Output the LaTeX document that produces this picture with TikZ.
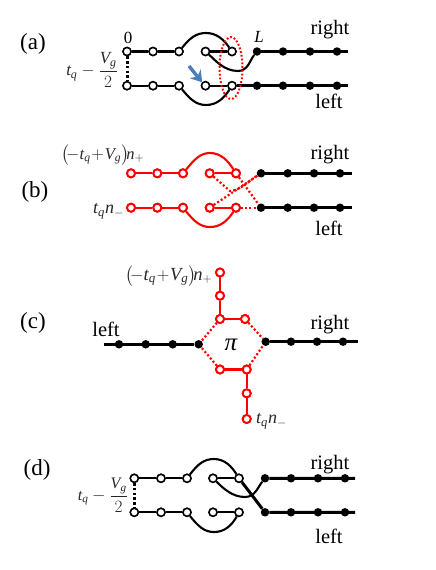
\documentclass[tikz,border=0pt]{standalone}
\usetikzlibrary{shapes.geometric,arrows.meta}
\usepackage{amsmath}
\usepackage{fontspec}
\setmainfont{Liberation Serif}
\newcommand{\iv}[1]{\text{\itshape #1}}
\newcommand{\pluslabel}{$\bigl(\!-\iv{t}_{\iv{q}}\!+\!\iv{V}_{\iv{g}}\bigr)\!\iv{n}_{+}$}
\tikzset{x=1pt,y=-1pt,
 wn/.style={circle,draw=black,fill=white,line width=1.5pt,inner sep=0pt,minimum size=8pt},
 rn/.style={circle,draw=red,fill=white,line width=1.9pt,inner sep=0pt,minimum size=8pt},
 bn/.style={circle,fill=black,inner sep=0pt,minimum size=8.5pt},
 bl/.style={line width=2.1pt,black},
 bt/.style={line width=3pt,black},
 rl/.style={line width=2.1pt,red},
 rd/.style={line width=2.2pt,red,dash pattern=on 2pt off 2.2pt},
 kd/.style={line width=3pt,black,dash pattern=on 2.6pt off 2.2pt},
 big/.style={font=\fontsize{23}{25}\selectfont,inner sep=0pt},
 lab/.style={font=\fontsize{20.5}{22}\selectfont,inner sep=0pt},
 sml/.style={font=\fontsize{17}{19}\selectfont,inner sep=0pt},
 mtha/.style={font=\fontsize{17}{19}\selectfont,inner sep=0pt,text=black!85},
 mthd/.style={font=\fontsize{16}{18}\selectfont,inner sep=0pt,text=black!85},
 mtb/.style={font=\fontsize{16.5}{19}\selectfont,inner sep=0pt,text=black!85},
 mtc/.style={font=\fontsize{18.5}{21}\selectfont,inner sep=0pt,text=black!85},
 mtr/.style={font=\fontsize{18}{20}\selectfont,inner sep=0pt,text=black!85},
}
\begin{document}
\begin{tikzpicture}
\useasboundingbox (0,0) rectangle (436,570);
% ---------- panel a
\foreach \n/\x in {1/127,2/153,3/179,4/205.5,5/232}{
 \node[wn] (at\n) at (\x,51.5) {}; \node[wn] (ab\n) at (\x,85.7) {};}
\foreach \n/\x in {1/257,2/283,3/310,4/337}{
 \node[bn] (ar\n) at (\x,51.5) {}; \node[bn] (al\n) at (\x,85.7) {};}
\coordinate (are) at (348,51.5); \coordinate (ale) at (348,85.7);
\draw[bl] (at1)--(at2)--(at3) (at4)--(at5) (ab1)--(ab2)--(ab3) (ab4)--(ab5);
\draw[bt] (ar1)--(are) (ab5)--(ale);
\draw[bl] (at3) .. controls (190,38) and (196,33) .. (206,33) .. controls (217,33) and (224,40) .. (at5);
\draw[bl] (ab3) .. controls (190,99) and (196,105) .. (206,105) .. controls (217,105) and (224,98) .. (ab5);
\draw[bl] (at4) .. controls (215,60) and (224,71) .. (238,71) .. controls (248,71) and (250,60) .. (ar1);
\draw[kd] (at1)--(ab1);
\foreach \n in {1,2,3,4,5}{\node[wn] at (at\n) {}; \node[wn] at (ab\n) {};}
\node[draw=red,line width=2pt,dash pattern=on 1.8pt off 2pt,ellipse,minimum width=23pt,minimum height=62pt,inner sep=0pt] (aell) at (231,68) {};
\coordinate (aar) at (189,66);
\draw[-{Stealth[length=11pt,width=14pt]},line width=3.4pt,color={rgb,255:red,74;green,126;blue,187}] (aar) -- (ab4.north west);
\node[big] (alba) at (33,44) {(a)};
\node[sml] (a0) at (128,38) {0};
\node[sml] (aL) at (259,37) {\itshape L};
\node[lab] (arig) at (330,30) {right};
\node[lab] (alef) at (329,101) {left};
\node[mtha,anchor=east] (afr) at (118,70) {$\iv{t}_{\iv{q}}-\dfrac{\iv{V}_{\iv{g}}}{2}$};
% ---------- panel b
\foreach \n/\x in {1/131,2/157.3,3/183,4/209.7,5/236}{
 \node[rn] (bt\n) at (\x,173.3) {}; \node[rn] (bb\n) at (\x,207.7) {};}
\foreach \n/\x in {1/261,2/287.7,3/314,4/340}{
 \node[bn] (br\n) at (\x,173.3) {}; \node[bn] (bl\n) at (\x,207.7) {};}
\coordinate (bre) at (352,173.3); \coordinate (ble) at (352,207.7);
\draw[rl] (bt1)--(bt2)--(bt3) (bt4)--(bt5) (bb1)--(bb2)--(bb3) (bb4)--(bb5);
\draw[bt] (br1)--(bre) (bl1)--(ble);
\draw[rl] (bt3) .. controls (194,160) and (200,153) .. (210,153) .. controls (221,153) and (228,161) .. (bt5);
\draw[rl] (bb3) .. controls (194,221) and (200,227) .. (210,227) .. controls (221,227) and (228,220) .. (bb5);
\draw[rd] (bt4) -- (230,191) .. controls (240,191) and (250,180) .. (br1);
\draw[rd] (bb4) -- (br1);
\draw[rd] (bt5) -- (bl1);
\draw[rd] (bb5) -- (bl1);
\foreach \n in {1,2,3,4,5}{\node[rn] at (bt\n) {}; \node[rn] at (bb\n) {};}
\node[big] (blab) at (35,192) {(b)};
\node[lab] (brig) at (330,155) {right};
\node[lab] (blef) at (329,228) {left};
\node[mtb,anchor=west] (bp) at (61,155) {\pluslabel};
\node[mtr,anchor=west] (bm) at (93,211) {$\iv{t}_{\iv{q}}\iv{n}_{-}$};
% ---------- panel c
\node[rn] (c1) at (220,272.5) {};
\node[rn] (c2) at (220,295.7) {};
\node[rn] (c3) at (220,319) {};
\node[rn] (c4) at (245,319) {};
\node[rn] (c5) at (220,369.5) {};
\node[rn] (c6) at (246.7,369.5) {};
\node[rn] (c7) at (246.7,393.3) {};
\node[rn] (c8) at (246.7,419) {};
\foreach \n/\x in {1/119,2/145.7,3/172.7,4/198.7}{\node[bn] (cl\n) at (\x,344.3) {};}
\foreach \n/\x in {1/265.7,2/291,3/317,4/343}{\node[bn] (cr\n) at (\x,341.7) {};}
\coordinate (cle) at (104,344.3); \coordinate (cre) at (358,341.7);
\draw[rl] (c1)--(c2)--(c3)--(c4) (c5)--(c6)--(c7)--(c8);
\draw[bt] (cle)--(cl4) (cr1)--(cre);
\draw[rd] (c3)--(cl4) (c5)--(cl4) (c4)--(cr1) (c6)--(cr1);
\foreach \n in {1,...,8}{\node[rn] at (c\n) {};}
\node[big] (clab) at (33,323) {(c)};
\node[lab] (clef) at (106,329) {left};
\node[lab] (crig) at (330,325) {right};
\node[font=\fontsize{25}{27}\selectfont\itshape,inner sep=0pt] (cpi) at (231,345) {π};
\node[mtc,anchor=west] (cp) at (125,276) {\pluslabel};
\node[mtr,anchor=west] (cm) at (256,421) {$\iv{t}_{\iv{q}}\iv{n}_{-}$};
% ---------- panel d
\foreach \n/\x in {1/134.3,2/161,3/187,4/213,5/239}{
 \node[wn] (dt\n) at (\x,478.3) {}; \node[wn] (db\n) at (\x,512.3) {};}
\foreach \n/\x in {1/265,2/291,3/318,4/345}{
 \node[bn] (dr\n) at (\x,478.3) {}; \node[bn] (dl\n) at (\x,512.3) {};}
\coordinate (dre) at (355,478.3); \coordinate (dle) at (355,512.3);
\draw[bl] (dt1)--(dt2)--(dt3) (dt4)--(dt5) (db1)--(db2)--(db3) (db4)--(db5);
\draw[bt] (dr1)--(dre) (dl1)--(dle) (dt5)--(dl1);
\draw[bl] (dt3) .. controls (198,464) and (204,459) .. (214,459) .. controls (225,459) and (232,467) .. (dt5);
\draw[bl] (db3) .. controls (198,526) and (204,532) .. (214,532) .. controls (225,532) and (232,525) .. (db5);
\draw[bl] (dt4) .. controls (223,488) and (232,497) .. (245,497) .. controls (255,497) and (258,487) .. (dr1);
\draw[kd] (dt1)--(db1);
\foreach \n in {1,2,3,4,5}{\node[wn] at (dt\n) {}; \node[wn] at (db\n) {};}
\node[big] (dlab) at (37,470) {(d)};
\node[lab] (drig) at (330,465) {right};
\node[lab] (dlef) at (329,536) {left};
\node[mthd,anchor=east] (dfr) at (128,495) {$\iv{t}_{\iv{q}}-\dfrac{\iv{V}_{\iv{g}}}{2}$};
\end{tikzpicture}
\end{document}
